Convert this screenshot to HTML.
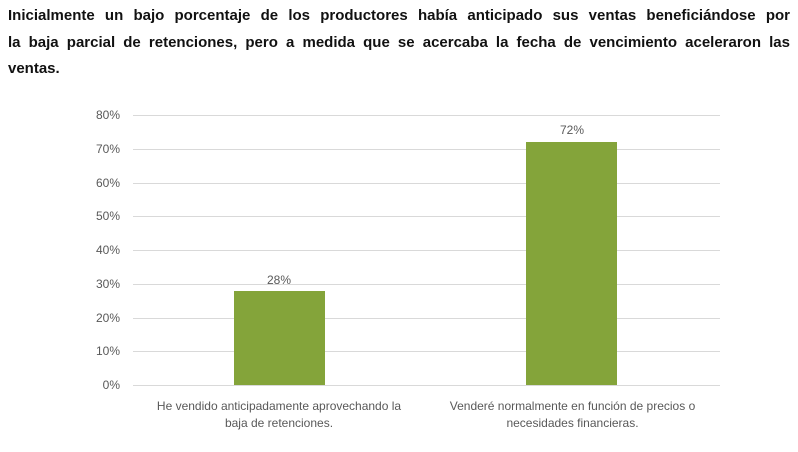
<!DOCTYPE html>
<html><head><meta charset="utf-8"><style>
body{margin:0;width:798px;height:452px;background:#fff;position:relative;overflow:hidden;font-family:"Liberation Sans",sans-serif}
.t{position:absolute;left:8px;width:782px;font-weight:bold;font-size:15px;color:#111;text-align:justify;text-align-last:justify;white-space:nowrap;line-height:18px}
.g{position:absolute;left:133px;width:587px;height:1px;background:#d9d9d9}
.y{position:absolute;left:60px;width:60px;text-align:right;font-size:12px;color:#595959;line-height:14px}
.b{position:absolute;width:91px;background:#84a43a}
.l{position:absolute;font-size:12px;color:#595959;text-align:center;width:300px;line-height:17px}
</style></head><body>
<div class="t" style="top:7px">Inicialmente un bajo porcentaje de los productores había anticipado sus ventas beneficiándose por</div>
<div class="t" style="top:34px">la baja parcial de retenciones, pero a medida que se acercaba la fecha de vencimiento aceleraron las</div>
<div class="t" style="top:60px;text-align-last:left">ventas.</div>
<div class="g" style="top:115px"></div><div class="y" style="top:108px">80%</div>
<div class="g" style="top:149px"></div><div class="y" style="top:142px">70%</div>
<div class="g" style="top:183px"></div><div class="y" style="top:176px">60%</div>
<div class="g" style="top:216px"></div><div class="y" style="top:209px">50%</div>
<div class="g" style="top:250px"></div><div class="y" style="top:243px">40%</div>
<div class="g" style="top:284px"></div><div class="y" style="top:277px">30%</div>
<div class="g" style="top:318px"></div><div class="y" style="top:311px">20%</div>
<div class="g" style="top:351px"></div><div class="y" style="top:344px">10%</div>
<div class="g" style="top:385px"></div><div class="y" style="top:378px">0%</div>
<div class="b" style="left:234px;top:291px;height:94px"></div>
<div class="b" style="left:526px;top:142px;height:243px"></div>
<div class="l" style="left:129px;top:272px;width:300px">28%</div>
<div class="l" style="left:422px;top:122px;width:300px">72%</div>
<div class="l" style="left:129px;top:398px">He vendido anticipadamente aprovechando la<br>baja de retenciones.</div>
<div class="l" style="left:415px;top:398px;width:315px">Venderé normalmente en función de precios o<br>necesidades financieras.</div>
</body></html>
